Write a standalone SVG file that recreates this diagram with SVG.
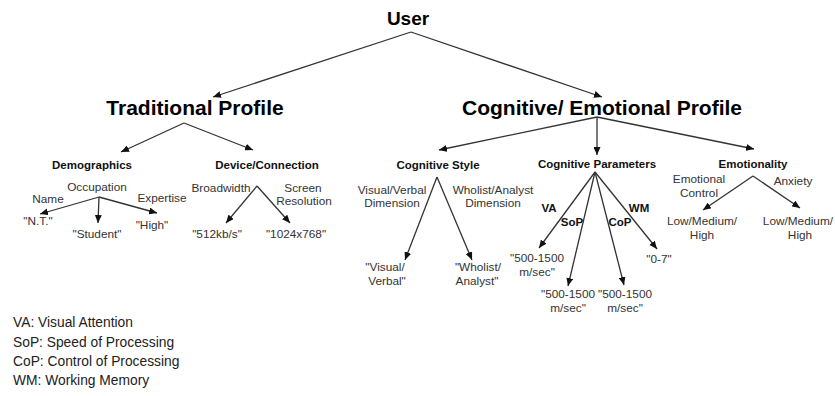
<svg xmlns="http://www.w3.org/2000/svg" width="835" height="396" viewBox="0 0 835 396">
<defs>
<marker id="ah" markerUnits="userSpaceOnUse" markerWidth="8" markerHeight="7" refX="8" refY="3.5" orient="auto">
<path d="M0,0 L8,3.5 L0,7 z" fill="#111"/>
</marker>
<style>
text{font-family:"Liberation Sans",Arial,sans-serif;fill:#222;text-anchor:middle}
.h1{font-size:19px;font-weight:bold;fill:#000}
.h2{font-size:21px;font-weight:bold;fill:#000}
.h3{font-size:11.5px;font-weight:bold;fill:#111}
.lb{font-size:11.8px;fill:#333}
.bl{font-size:11.5px;font-weight:bold;fill:#111}
.lg{font-size:13.8px;fill:#222;text-anchor:start}
.c line{stroke:#333;stroke-width:1.3;fill:none}
.c .a{marker-end:url(#ah)}
</style>
</defs>
<rect width="835" height="396" fill="#fff"/>
<g class="c" id="connectors">
<line class="a" x1="411" y1="32" x2="213" y2="97"/>
<line class="a" x1="411" y1="32" x2="602" y2="97"/>
<line class="a" x1="184" y1="123" x2="121" y2="152"/>
<line class="a" x1="184" y1="123" x2="253" y2="150"/>
<line class="a" x1="597" y1="117" x2="439" y2="150"/>
<line class="a" x1="597" y1="117" x2="597" y2="155"/>
<line class="a" x1="597" y1="117" x2="754" y2="149"/>
<line class="a" x1="99" y1="197" x2="40" y2="214"/>
<line class="a" x1="99" y1="197" x2="98" y2="223"/>
<line class="a" x1="99" y1="197" x2="157" y2="213"/>
<line class="a" x1="257" y1="186" x2="226" y2="223"/>
<line class="a" x1="257" y1="186" x2="290" y2="223"/>
<line class="a" x1="437" y1="177" x2="405" y2="260"/>
<line class="a" x1="437" y1="177" x2="472" y2="260"/>
<line class="a" x1="595" y1="172" x2="539" y2="248"/>
<line class="a" x1="595" y1="172" x2="568" y2="286"/>
<line class="a" x1="595" y1="172" x2="624" y2="285"/>
<line class="a" x1="595" y1="172" x2="657" y2="249"/>
<line class="a" x1="753" y1="176" x2="703" y2="210"/>
<line class="a" x1="753" y1="176" x2="800" y2="208"/>
</g>
<g id="user"><text class="h1" x="408" y="25">User</text></g>
<g id="traditional"><text class="h2" x="195" y="115">Traditional Profile</text></g>
<g id="cognitive-emotional"><text class="h2" x="602" y="115">Cognitive/ Emotional Profile</text></g>
<g id="demographics">
<text class="h3" x="92" y="169">Demographics</text>
<text class="lb" x="97" y="191">Occupation</text>
<text class="lb" x="48" y="203">Name</text>
<text class="lb" x="162" y="202">Expertise</text>
<text class="lb" x="38" y="225">"N.T."</text>
<text class="lb" x="97" y="238">"Student"</text>
<text class="lb" x="152" y="229">"High"</text>
</g>
<g id="device">
<text class="h3" x="267" y="169">Device/Connection</text>
<text class="lb" x="221" y="192">Broadwidth</text>
<text class="lb" x="303" y="192">Screen</text>
<text class="lb" x="304" y="205">Resolution</text>
<text class="lb" x="217" y="238">"512kb/s"</text>
<text class="lb" x="296" y="238">"1024x768"</text>
</g>
<g id="cognitive-style">
<text class="h3" x="438" y="169">Cognitive Style</text>
<text class="lb" x="392" y="194">Visual/Verbal</text>
<text class="lb" x="392" y="207">Dimension</text>
<text class="lb" x="493" y="194">Wholist/Analyst</text>
<text class="lb" x="493" y="207">Dimension</text>
<text class="lb" x="385" y="271">"Visual/</text>
<text class="lb" x="387" y="285">Verbal"</text>
<text class="lb" x="478" y="271">"Wholist/</text>
<text class="lb" x="477" y="285">Analyst"</text>
</g>
<g id="cognitive-parameters">
<text class="h3" x="597" y="168">Cognitive Parameters</text>
<text class="bl" x="549" y="212">VA</text>
<text class="bl" x="572" y="226">SoP</text>
<text class="bl" x="620" y="226">CoP</text>
<text class="bl" x="639" y="212">WM</text>
<text class="lb" x="537" y="262">"500-1500</text>
<text class="lb" x="537" y="276">m/sec"</text>
<text class="lb" x="568" y="298">"500-1500</text>
<text class="lb" x="568" y="312">m/sec"</text>
<text class="lb" x="625" y="298">"500-1500</text>
<text class="lb" x="625" y="312">m/sec"</text>
<text class="lb" x="659" y="263">"0-7"</text>
</g>
<g id="emotionality">
<text class="h3" x="753" y="168">Emotionality</text>
<text class="lb" x="699" y="183">Emotional</text>
<text class="lb" x="699" y="197">Control</text>
<text class="lb" x="793" y="185">Anxiety</text>
<text class="lb" x="702" y="225">Low/Medium/</text>
<text class="lb" x="702" y="239">High</text>
<text class="lb" x="833" y="225" style="text-anchor:end">Low/Medium/</text>
<text class="lb" x="800" y="239">High</text>
</g>
<g id="legend">
<text class="lg" x="13" y="327">VA: Visual Attention</text>
<text class="lg" x="13" y="347">SoP: Speed of Processing</text>
<text class="lg" x="13" y="366">CoP: Control of Processing</text>
<text class="lg" x="13" y="385">WM: Working Memory</text>
</g>
</svg>
